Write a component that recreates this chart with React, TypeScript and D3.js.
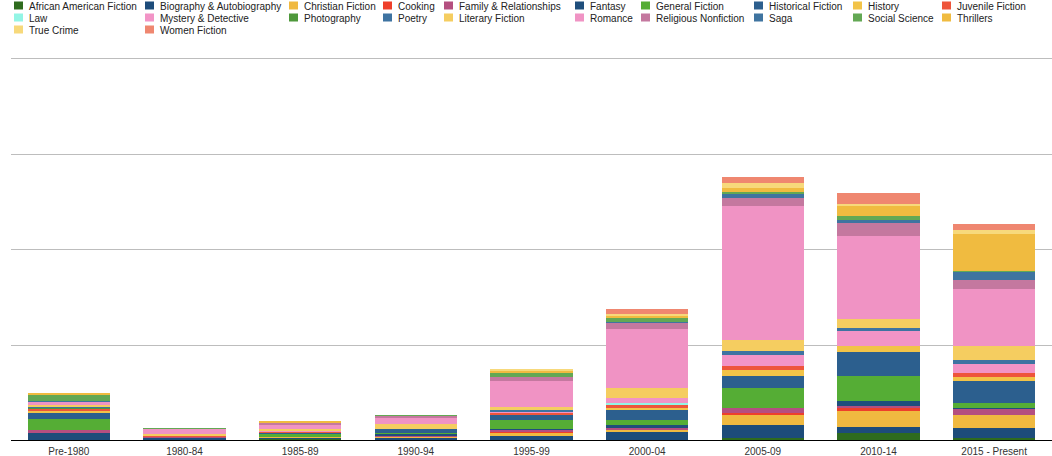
import React from "react"
import * as d3 from "d3"

// genres in legend / stacking order
const genres = [
  "African American Fiction",
  "Biography & Autobiography",
  "Christian Fiction",
  "Cooking",
  "Family & Relationships",
  "Fantasy",
  "General Fiction",
  "Historical Fiction",
  "History",
  "Juvenile Fiction",
  "Law",
  "Mystery & Detective",
  "Photography",
  "Poetry",
  "Literary Fiction",
  "Romance",
  "Religious Nonfiction",
  "Saga",
  "Social Science",
  "Thrillers",
  "True Crime",
  "Women Fiction",
]

const colors = [
  "#2e6b1e", "#1d4c7a", "#f0b940", "#ee3f2b", "#b44f80", "#1f4e7c",
  "#55ad35", "#2c5f8e", "#f2c348", "#ee553b", "#93f5e5", "#f294c6",
  "#4e983b", "#3e73a1", "#f5cd60", "#f093c4", "#c4789f", "#3f74a0",
  "#63a854", "#f0bb40", "#f7d97b", "#ef8770",
]

const periods = [
  "Pre-1980", "1980-84", "1985-89", "1990-94", "1995-99",
  "2000-04", "2005-09", "2010-14", "2015 - Present",
]

// books per genre, same order as genres
const pre1980 = [0, 7, 0, 0, 3, 0, 12, 6, 2, 2, 0, 0, 1, 2, 2, 3, 0, 1, 6, 2, 0, 0]
const y1980 = [0, 2, 0, 0, 1, 0, 0, 0, 0, 1, 0, 0, 0, 0, 2, 5, 1, 0, 1, 0, 0, 0]
const y1985 = [1, 1, 1, 0, 0, 0, 3, 1, 0, 1, 0, 1, 0, 0, 2, 5, 2, 0, 0, 2, 0, 0]
const y1990 = [0, 2, 1, 0, 1, 2, 1, 4, 0, 1, 0, 0, 0, 0, 5, 6, 2, 0, 1, 0, 0, 0]
const y1995 = [0, 4, 3, 1, 2, 2, 9, 5, 0, 2, 0, 1, 0, 2, 4, 27, 4, 0, 4, 2, 2, 0]
const y2000 = [0, 8, 2, 0, 3, 3, 5, 10, 2, 4, 2, 5, 0, 0, 10, 62, 7, 1, 4, 2, 2, 5]
const y2005 = [2, 14, 10, 2, 5, 0, 21, 13, 6, 4, 0, 12, 0, 4, 12, 140, 8, 5, 2, 4, 5, 6]
const y2010 = [7, 7, 16, 4, 2, 5, 26, 25, 6, 0, 0, 16, 0, 3, 10, 87, 13, 3, 5, 10, 2, 12]
const y2015 = [2, 11, 13, 0, 6, 1, 6, 23, 4, 4, 0, 10, 0, 4, 14, 60, 10, 8, 1, 39, 4, 6]

const series = [pre1980, y1980, y1985, y1990, y1995, y2000, y2005, y2010, y2015]

const gridTicks = [100, 200, 300, 400]

// legend column x positions (text start)
const legendCols = [29, 160, 304, 398, 459, 590, 656, 769, 868, 957]

const width = 1052
const height = 456
const left = 11
const baseline = 440
const top = 58

const App = () => {
  const table = periods.map((p, i) => {
    const row: any = { period: p }
    genres.forEach((g, j) => (row[g] = series[i][j]))
    return row
  })

  const stacked = d3.stack().keys(genres)(table)

  const x = d3
    .scaleBand()
    .domain(periods)
    .range([left, width])
    .paddingInner(0.29)
    .paddingOuter(0.145)

  const y = d3.scaleLinear().domain([0, 400]).range([baseline, top])

  const font = "'Liberation Sans', Arial, Helvetica, sans-serif"

  return (
    <svg
      width={width}
      height={height}
      style={{ position: "absolute", left: 0, top: 0, background: "#fff" }}
      fontFamily={font}
    >
      {/* legend */}
      <g fontSize={10} fill="#222">
        {genres.map((g, i) => {
          const col = i % 10
          const row = Math.floor(i / 10)
          const tx = legendCols[col]
          const by = 9.5 + row * 12
          return (
            <g key={g}>
              <rect x={tx - 15} y={by - 8} width={9} height={8} fill={colors[i]} />
              <text x={tx} y={by}>
                {g}
              </text>
            </g>
          )
        })}
      </g>

      {/* grid */}
      <g stroke="#bdbdbd" strokeWidth={1}>
        {gridTicks.map((t) => (
          <line key={t} x1={left} x2={width} y1={Math.round(y(t)) + 0.5} y2={Math.round(y(t)) + 0.5} />
        ))}
      </g>

      {/* bars */}
      <g shapeRendering="crispEdges">
        {stacked.map((s, i) => (
          <g key={s.key} fill={colors[i]}>
            {s.map((d, k) =>
              d[1] - d[0] > 0 ? (
                <rect
                  key={k}
                  x={x(periods[k])!}
                  y={y(d[1])}
                  width={x.bandwidth()}
                  height={y(d[0]) - y(d[1])}
                />
              ) : null
            )}
          </g>
        ))}
      </g>

      {/* baseline */}
      <line x1={left} x2={width} y1={baseline + 0.5} y2={baseline + 0.5} stroke="#000" strokeWidth={1.2} />

      {/* x labels */}
      <g fontSize={10} fill="#333" textAnchor="middle">
        {periods.map((p) => (
          <text key={p} x={x(p)! + x.bandwidth() / 2} y={455}>
            {p}
          </text>
        ))}
      </g>
    </svg>
  )
}

export default App
